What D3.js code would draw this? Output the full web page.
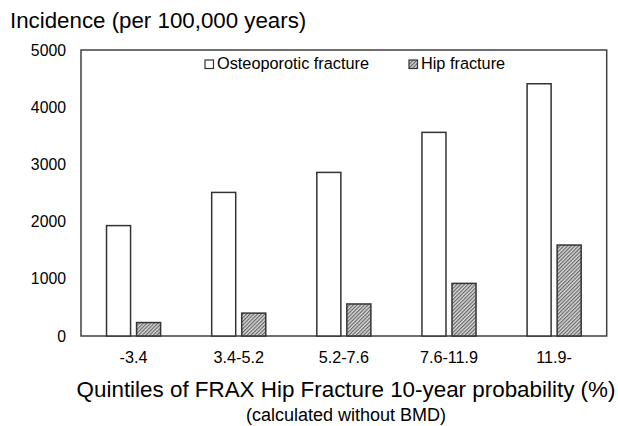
<!DOCTYPE html>
<html>
<head>
<meta charset="utf-8">
<script src="https://cdn.jsdelivr.net/npm/d3@7"></script>
<style>
  body { margin: 0; background: #fff; }
  text { font-family: "Liberation Sans", Arial, sans-serif; fill: #000; }
</style>
</head>
<body>
<div id="viz"></div>
<script>
// data
var categories = ["-3.4", "3.4-5.2", "5.2-7.6", "7.6-11.9", "11.9-"];
var series = ["Osteoporotic fracture", "Hip fracture"];
var osteoValues = [1930, 2510, 2860, 3560, 4410];
var hipValues = [235, 400, 560, 920, 1590];
var yTicks = [0, 1000, 2000, 3000, 4000, 5000];

var W = 618, H = 426;
var margin = {top: 50, right: 11.3, bottom: 90, left: 81};
var width = W - margin.left - margin.right,
    height = H - margin.top - margin.bottom;

var svg = d3.select("#viz")
  .append("svg")
    .attr("width", W)
    .attr("height", H);

// hatch pattern for hip fracture
var defs = svg.append("defs");
var pat = defs.append("pattern")
    .attr("id", "hatch")
    .attr("width", 2.6)
    .attr("height", 2.6)
    .attr("patternUnits", "userSpaceOnUse")
    .attr("patternTransform", "rotate(45)");
pat.append("rect").attr("width", 2.6).attr("height", 2.6).attr("fill", "#d8d8d8");
pat.append("line")
    .attr("x1", 0.6).attr("y1", 0).attr("x2", 0.6).attr("y2", 2.6)
    .attr("stroke", "#606060").attr("stroke-width", 1.1);

var g = svg.append("g")
    .attr("transform", "translate(" + margin.left + "," + margin.top + ")");

var x0 = d3.scaleBand()
    .domain(categories)
    .range([0, width])
    .padding(0);

var x1 = d3.scaleBand()
    .domain(series)
    .range([0, x0.bandwidth()])
    .paddingInner(0.2)
    .paddingOuter(0.85);

var y = d3.scaleLinear()
    .domain([0, 5000])
    .range([height, 0]);

// plot frame
g.append("rect")
    .attr("x", 0).attr("y", 0)
    .attr("width", width).attr("height", height)
    .attr("fill", "none")
    .attr("stroke", "#404040")
    .attr("stroke-width", 1.5);

// y axis
var yAxis = g.append("g")
    .call(d3.axisLeft(y).tickValues(yTicks).tickSize(0).tickPadding(15).tickFormat(d3.format("d")));
yAxis.select(".domain").remove();
yAxis.selectAll("text")
    .style("font-size", "15.8px")
    .style("font-family", "'Liberation Sans', Arial, sans-serif")
    .attr("fill", "#000");

// x axis
var xAxis = g.append("g")
    .attr("transform", "translate(0," + height + ")")
    .call(d3.axisBottom(x0).tickSize(0).tickPadding(15));
xAxis.select(".domain").remove();
xAxis.selectAll("text")
    .style("font-size", "16.2px")
    .style("font-family", "'Liberation Sans', Arial, sans-serif")
    .attr("fill", "#000");

// bars
var rows = categories.map(function(c, i) {
  return {cat: c, vals: [
    {key: series[0], value: osteoValues[i]},
    {key: series[1], value: hipValues[i]}
  ]};
});

var groups = g.selectAll(".grp")
  .data(rows)
  .enter()
  .append("g")
    .attr("class", "grp")
    .attr("transform", function(d) { return "translate(" + x0(d.cat) + ",0)"; });

groups.selectAll("rect")
  .data(function(d) { return d.vals; })
  .enter()
  .append("rect")
    .attr("x", function(d) { return x1(d.key); })
    .attr("y", function(d) { return y(d.value); })
    .attr("width", x1.bandwidth())
    .attr("height", function(d) { return height - y(d.value); })
    .attr("fill", function(d) { return d.key === series[0] ? "#fff" : "url(#hatch)"; })
    .attr("stroke", "#333")
    .attr("stroke-width", 1.5);

// legend
var legendPos = [205, 409];
var legend = svg.selectAll(".leg")
  .data(series)
  .enter()
  .append("g")
    .attr("class", "leg")
    .attr("transform", function(d, i) { return "translate(" + legendPos[i] + ",60)"; });
legend.append("rect")
    .attr("width", 8.5).attr("height", 8.5)
    .attr("fill", function(d, i) { return i === 0 ? "#fff" : "url(#hatch)"; })
    .attr("stroke", "#333")
    .attr("stroke-width", 1.2);
legend.append("text")
    .attr("x", 12)
    .attr("y", 9.3)
    .style("font-size", "16.3px")
    .text(function(d) { return d; });

// titles
svg.append("text")
    .attr("x", 10)
    .attr("y", 28.3)
    .style("font-size", "22.3px")
    .text("Incidence (per 100,000 years)");

svg.append("text")
    .attr("x", 346)
    .attr("y", 397.3)
    .attr("text-anchor", "middle")
    .style("font-size", "22.4px")
    .text("Quintiles of FRAX Hip Fracture 10-year probability (%)");

svg.append("text")
    .attr("x", 346)
    .attr("y", 420.5)
    .attr("text-anchor", "middle")
    .style("font-size", "18px")
    .text("(calculated without BMD)");
</script>
</body>
</html>
